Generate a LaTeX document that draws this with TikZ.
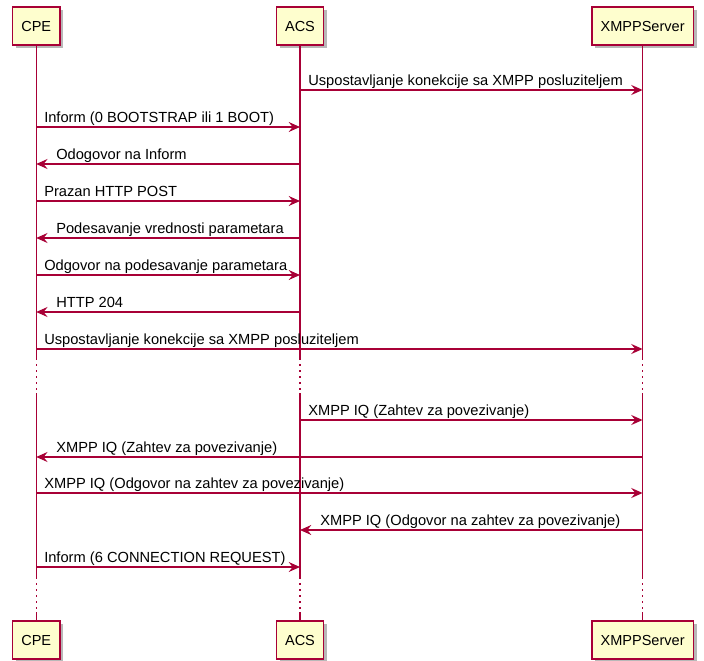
\documentclass[tikz,border=0pt]{standalone}
\usepackage{fontspec}
\setmainfont{Liberation Sans}
\usetikzlibrary{arrows.meta,shadows}
\definecolor{umlred}{RGB}{168,0,54}
\definecolor{umlfill}{RGB}{254,254,206}
\tikzset{
  party/.style={draw=umlred,fill=umlfill,line width=1.1pt,inner xsep=6.6pt,
    minimum height=28.5pt,font=\fontsize{10.9}{12}\selectfont,
    drop shadow={shadow xshift=2.6pt,shadow yshift=-2.6pt,fill=black,opacity=0.28}},
  life/.style={draw=umlred,line width=0.8pt},
  gap/.style={dash pattern=on 1.6pt off 2.9pt},
  msg/.style={draw=umlred,line width=0.9pt,-{Stealth[length=8.5pt,width=7.5pt,inset=3pt]}},
  lbl/.style={anchor=base west,inner sep=0pt,font=\fontsize{11}{12}\selectfont}
}
\begin{document}
\begin{tikzpicture}[x=0.75pt,y=0.75pt,yscale=-1,xscale=1]
\useasboundingbox[fill=white] (0,0) rectangle (704,661);
%Participants
\node[party] (cpeT) at (36.2,26) {CPE};
\node[party] (acsT) at (300,26) {ACS};
\node[party] (xmppT) at (642.6,26) {XMPPServer};
\node[party] (cpeB) at (36.2,640) {CPE};
\node[party] (acsB) at (300,640) {ACS};
\node[party] (xmppB) at (642.6,640) {XMPPServer};
%Lifelines
\foreach \p in {cpe,acs,xmpp}{
  \draw[life] (\p T.south) -- (\p T |- 0,358);
  \draw[life,gap] (\p T |- 0,358) -- (\p T |- 0,393);
  \draw[life] (\p T |- 0,393) -- (\p T |- 0,577);
  \draw[life,gap] (\p T |- 0,577) -- (\p T |- 0,612);
  \draw[life] (\p T |- 0,612) -- (\p B.north);
}
%Messages
\draw[msg] (acsT |- 0,90) -- (xmppT |- 0,90);
\node[lbl] (m1) at (308,85) {Uspostavljanje konekcije sa XMPP posluziteljem};
\draw[msg] (cpeT |- 0,127) -- (acsT |- 0,127);
\node[lbl] (m2) at (44,122) {Inform (0 BOOTSTRAP ili 1 BOOT)};
\draw[msg] (acsT |- 0,164) -- (cpeT |- 0,164);
\node[lbl] (m3) at (56,159) {Odogovor na Inform};
\draw[msg] (cpeT |- 0,201) -- (acsT |- 0,201);
\node[lbl] (m4) at (44,196) {Prazan HTTP POST};
\draw[msg] (acsT |- 0,238) -- (cpeT |- 0,238);
\node[lbl] (m5) at (56,233) {Podesavanje vrednosti parametara};
\draw[msg] (cpeT |- 0,275) -- (acsT |- 0,275);
\node[lbl] (m6) at (44,270) {Odgovor na podesavanje parametara};
\draw[msg] (acsT |- 0,312) -- (cpeT |- 0,312);
\node[lbl] (m7) at (56,307) {HTTP 204};
\draw[msg] (cpeT |- 0,349) -- (xmppT |- 0,349);
\node[lbl] (m8) at (44,344) {Uspostavljanje konekcije sa XMPP posluziteljem};
\draw[msg] (acsT |- 0,420) -- (xmppT |- 0,420);
\node[lbl] (m9) at (308,415) {XMPP IQ (Zahtev za povezivanje)};
\draw[msg] (xmppT |- 0,457) -- (cpeT |- 0,457);
\node[lbl] (m10) at (56,452) {XMPP IQ (Zahtev za povezivanje)};
\draw[msg] (cpeT |- 0,493) -- (xmppT |- 0,493);
\node[lbl] (m11) at (44,488) {XMPP IQ (Odgovor na zahtev za povezivanje)};
\draw[msg] (xmppT |- 0,530) -- (acsT |- 0,530);
\node[lbl] (m12) at (320,525) {XMPP IQ (Odgovor na zahtev za povezivanje)};
\draw[msg] (cpeT |- 0,567) -- (acsT |- 0,567);
\node[lbl] (m13) at (44,562) {Inform (6 CONNECTION REQUEST)};
\end{tikzpicture}
\end{document}
